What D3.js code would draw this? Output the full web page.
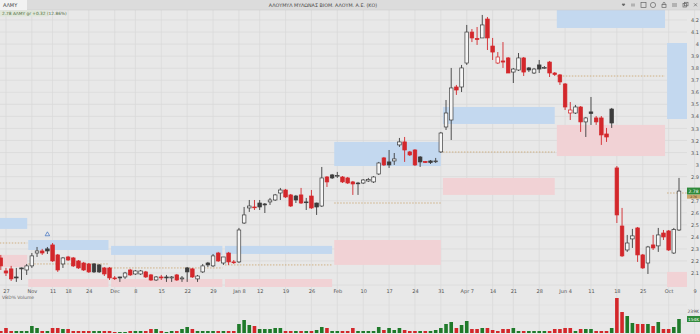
<!DOCTYPE html>
<html><head><meta charset="utf-8">
<script src="https://cdn.jsdelivr.net/npm/d3@7/dist/d3.min.js"></script>
<style>body{margin:0;background:#e8e8e8;overflow:hidden}svg{display:block;font-family:"DejaVu Sans",Arial,sans-serif}</style>
</head><body><svg id="c" width="700" height="334"></svg>
<script>
// ---------- DATA ----------
const open=[2.225,2.117,2.134,2.067,2.142,2.125,2.159,2.266,2.283,2.300,2.333,2.250,2.175,2.233,2.225,2.200,2.183,2.175,2.175,2.167,
2.142,2.142,2.059,2.067,2.067,2.125,2.092,2.092,2.109,2.084,2.042,2.067,2.067,2.059,2.084,2.051,2.142,2.134,2.051,2.109,
2.183,2.159,2.266,2.183,2.266,2.192,2.192,2.515,2.640,2.648,2.681,2.673,2.690,2.706,2.764,2.789,2.748,2.739,2.748,2.690,
2.739,2.681,2.656,2.897,2.914,2.905,2.897,2.889,2.856,2.847,2.847,2.864,2.856,2.922,3.055,3.022,3.030,3.163,3.188,3.105,
3.121,3.063,3.026,3.030,3.026,3.105,3.312,3.370,3.644,3.644,3.843,4.100,4.046,4.051,4.208,3.984,3.843,3.860,3.885,3.768,
3.785,3.885,3.802,3.760,3.827,3.802,3.851,3.760,3.744,3.669,3.428,3.428,3.478,3.354,3.437,3.387,3.387,3.254,3.461,2.972,
2.490,2.291,2.383,2.474,2.250,2.183,2.333,2.325,2.432,2.449,2.266,2.457];
const high=[2.250,2.142,2.159,2.142,2.145,2.175,2.266,2.316,2.300,2.316,2.349,2.258,2.233,2.242,2.233,2.208,2.192,2.183,2.183,2.175,
2.150,2.150,2.075,2.069,2.109,2.134,2.125,2.125,2.117,2.092,2.075,2.084,2.084,2.075,2.092,2.075,2.150,2.142,2.084,2.175,
2.192,2.258,2.275,2.233,2.275,2.208,2.474,2.648,2.706,2.706,2.706,2.681,2.723,2.756,2.806,2.798,2.756,2.748,2.806,2.723,
2.789,2.684,2.980,2.905,2.922,2.939,2.905,2.897,2.864,2.856,2.880,2.889,2.905,3.022,3.063,3.121,3.096,3.221,3.229,3.113,
3.129,3.071,3.030,3.038,3.055,3.271,3.536,3.802,3.661,3.827,4.159,4.125,4.142,4.242,4.225,4.051,3.934,4.017,3.893,3.802,
3.926,3.893,3.810,3.802,3.868,3.818,3.860,3.768,3.752,3.677,3.519,3.495,3.486,3.395,3.561,3.403,3.403,3.304,3.470,2.988,
2.640,2.416,2.466,2.482,2.258,2.325,2.416,2.474,2.457,2.457,2.474,2.889];
const low=[2.125,2.075,2.034,2.026,2.042,2.084,2.142,2.233,2.250,2.258,2.192,2.109,2.142,2.200,2.150,2.134,2.117,2.100,2.100,2.100,
2.075,2.042,2.042,2.026,2.051,2.075,2.084,2.084,2.059,2.034,2.034,2.042,2.026,2.026,2.034,2.026,2.026,2.059,2.026,2.100,
2.150,2.150,2.192,2.167,2.167,2.175,2.183,2.507,2.607,2.623,2.623,2.598,2.665,2.698,2.706,2.723,2.648,2.681,2.673,2.623,
2.632,2.582,2.648,2.814,2.880,2.889,2.847,2.839,2.748,2.748,2.839,2.856,2.847,2.914,2.988,2.972,2.997,3.146,3.022,3.071,
2.988,2.980,3.013,3.005,3.013,3.096,3.287,3.204,3.578,3.602,3.827,4.017,3.993,4.051,3.951,3.868,3.835,3.802,3.760,3.677,
3.777,3.735,3.768,3.752,3.760,3.793,3.727,3.735,3.661,3.453,3.370,3.420,3.271,3.229,3.329,3.329,3.163,3.188,3.304,2.515,
2.233,2.275,2.308,2.192,2.134,2.092,2.291,2.275,2.374,2.283,2.258,2.449];
const close=[2.159,2.100,2.051,2.059,2.134,2.159,2.242,2.283,2.266,2.283,2.200,2.125,2.225,2.208,2.159,2.142,2.125,2.109,2.109,2.109,
2.092,2.059,2.055,2.059,2.100,2.084,2.117,2.117,2.067,2.042,2.067,2.059,2.059,2.067,2.042,2.059,2.109,2.067,2.075,2.159,
2.167,2.242,2.200,2.233,2.192,2.188,2.457,2.582,2.656,2.646,2.648,2.665,2.706,2.748,2.789,2.731,2.656,2.706,2.681,2.686,
2.640,2.648,2.889,2.856,2.889,2.910,2.856,2.847,2.839,2.843,2.872,2.876,2.897,3.013,2.997,2.997,3.047,3.188,3.121,3.080,
2.997,3.022,3.017,3.017,3.030,3.262,3.428,3.636,3.619,3.802,4.100,4.051,4.038,4.159,4.051,3.934,3.893,3.851,3.760,3.793,
3.885,3.768,3.785,3.793,3.793,3.806,3.760,3.748,3.686,3.478,3.453,3.478,3.354,3.387,3.424,3.354,3.246,3.229,3.345,2.582,
2.242,2.349,2.408,2.250,2.142,2.316,2.308,2.416,2.399,2.291,2.460,2.780];
const volume=[22,55,22,22,22,22,77,55,22,22,55,55,44,44,22,22,22,22,22,22,
22,22,11,11,11,22,22,22,22,44,44,22,11,22,22,44,66,44,22,22,
22,22,22,22,22,22,99,143,88,77,44,44,44,55,55,22,22,22,22,22,
22,33,66,55,22,22,22,22,55,22,22,22,22,66,33,55,33,55,33,22,
22,22,22,22,33,55,99,121,55,88,132,44,44,55,55,33,22,44,44,55,
22,22,22,22,22,22,22,44,44,55,55,22,44,44,44,22,22,22,55,385,
231,187,110,99,99,99,77,121,44,44,66,154];
const bars=d3.range(open.length);
const tickIndex=[1,6,10,13,17,22,26,31,36,41,46,50,55,60,65,70,75,80,85,90,95,99,104,109,114,119,124,129,134];
const tickLabels=["27","Nov","11","18","24","Dec","8","15","22","29","Jan 8","12","19","26","Feb","10","17","24","31","Apr 7","14","21","28","Jun 4","11","18","25","Oct","9"];
const priceTicks=d3.range(21,43).map(d=>d/10);
// periodic zones (bar index ranges), resistance (blue), support (pink), pivot (dotted)
const zoneStart=[-0.2,5.3,21.3,43.3,64.4,85.4,107.4,128.7];
const zoneEnd=[5.1,20.8,42.8,64.0,85.0,107.0,128.3,132.6];
const resTop=[2.557,2.374,2.325,2.325,3.188,3.478,4.291,4.009];
const resBot=[2.466,2.291,2.250,2.258,2.988,3.337,4.134,3.378];
const supTop=[2.250,2.050,2.050,2.050,2.374,2.889,3.329,2.109];
const supBot=[2.150,1.960,1.960,1.960,2.167,2.748,3.071,1.976];
const pivot=[2.349,2.175,2.142,2.167,2.681,3.104,3.735,2.764];
const zones=zoneStart.map((s,i)=>({s,e:zoneEnd[i],rt:resTop[i],rb:resBot[i],st:supTop[i],sb:supBot[i],pv:pivot[i]}));

// ---------- CHART ----------
const W=700,H=334;
const svg=d3.select('#c');
const P={l:0,r:687,t:10,b:287};
const x=d3.scaleLinear().domain([0,131]).range([0.8,679]);
const y=d3.scaleLinear().domain([2.1,4.2]).range([273,20]);
const yv=d3.scaleLinear().domain([0,407]).range([333,296]);
const bw=3.6;
const RED='#d3272b', DARK='#3c3c3c', GREEN='#1f7a2a';
const lc=close[close.length-1];

svg.append('rect').attr('width',W).attr('height',H).attr('fill','#e8e8e8');
svg.append('defs').append('clipPath').attr('id','clip').append('rect')
  .attr('x',P.l).attr('y',P.t).attr('width',P.r-P.l).attr('height',P.b-P.t);

// grid
const grid=svg.append('g');
grid.selectAll('.hg').data(d3.range(20,43).map(d=>d/10)).join('line')
  .attr('x1',0).attr('x2',P.r).attr('y1',d=>y(d)).attr('y2',d=>y(d))
  .attr('stroke','#d9d9d9').attr('stroke-width',0.7);
grid.selectAll('.vg').data(tickIndex).join('line')
  .attr('x1',d=>x(d)).attr('x2',d=>x(d)).attr('y1',P.t).attr('y2',H)
  .attr('stroke','#d9d9d9').attr('stroke-width',0.7);
grid.selectAll('.vh').data([305,314,323]).join('line')
  .attr('x1',0).attr('x2',P.r).attr('y1',d=>d).attr('y2',d=>d)
  .attr('stroke','#dedede').attr('stroke-width',0.6);

// zones
const zg=svg.append('g').attr('clip-path','url(#clip)');
zg.selectAll('.rz').data(zones).join('rect')
  .attr('x',d=>x(d.s)).attr('width',d=>x(d.e)-x(d.s))
  .attr('y',d=>y(d.rt)).attr('height',d=>y(d.rb)-y(d.rt)).attr('fill','#c3d8ef');
zg.selectAll('.sz').data(zones).join('rect')
  .attr('x',d=>x(d.s)).attr('width',d=>x(d.e)-x(d.s))
  .attr('y',d=>y(d.st)).attr('height',d=>y(d.sb)-y(d.st)).attr('fill','#f1d2d5');
zg.selectAll('.pz').data(zones).join('line')
  .attr('x1',d=>x(d.s)).attr('x2',d=>x(d.e)).attr('y1',d=>y(d.pv)).attr('y2',d=>y(d.pv))
  .attr('stroke','#c49a5a').attr('stroke-width',0.7).attr('stroke-dasharray','1.5,1.5');

// candles
const cg=svg.append('g').attr('clip-path','url(#clip)');
const colOf=i=>{const pc=i>0?close[i-1]:open[i];return close[i]<pc?RED:DARK;};
cg.selectAll('.wick').data(bars).join('line')
  .attr('x1',i=>x(i)).attr('x2',i=>x(i)).attr('y1',i=>y(high[i])).attr('y2',i=>y(low[i]))
  .attr('stroke',colOf).attr('stroke-width',0.9);
cg.selectAll('.body').data(bars).join('rect')
  .attr('x',i=>x(i)-bw/2).attr('width',bw)
  .attr('y',i=>y(Math.max(open[i],close[i])))
  .attr('height',i=>Math.max(0.8,Math.abs(y(open[i])-y(close[i]))))
  .attr('fill',i=>close[i]<open[i]?colOf(i):'#f6f6f6')
  .attr('stroke',colOf).attr('stroke-width',0.7);

// marker triangle
svg.append('path').attr('d',d3.symbol(d3.symbolTriangle,9)())
  .attr('transform',`translate(${x(9)},${y(2.42)})`).attr('fill','none').attr('stroke','#3b6fc0').attr('stroke-width',0.7);

// price axis (label hidden under the last-price tag is left out)
const shownTicks=priceTicks.filter(t=>Math.abs(y(t)-y(lc))>6);
const ya=svg.append('g').attr('transform',`translate(${P.r},0)`)
  .call(d3.axisRight(y).tickValues(shownTicks).tickSize(0).tickFormat(d=>String(+d.toFixed(1))));
ya.select('.domain').remove();
ya.selectAll('text').attr('x',12).attr('text-anchor','end').attr('font-size',5).attr('fill','#555').attr('font-family','DejaVu Sans, sans-serif');

// time axis
const xa=svg.append('g').attr('transform',`translate(0,${P.b})`)
  .call(d3.axisBottom(x).tickValues(tickIndex).tickSize(0).tickPadding(2).tickFormat((d,i)=>tickLabels[i]));
xa.select('.domain').remove();
xa.selectAll('text').attr('font-size',5).attr('fill','#555').attr('font-family','DejaVu Sans, sans-serif');

// volume
svg.append('g').selectAll('rect').data(bars).join('rect')
  .attr('x',i=>x(i)-bw/2).attr('width',bw)
  .attr('y',i=>yv(volume[i])).attr('height',i=>yv(0)-yv(volume[i]))
  .attr('fill',i=>{const pc=i>0?close[i-1]:open[i];return close[i]>=pc?GREEN:RED;});
svg.append('text').attr('x',2).attr('y',299).attr('font-size',4.5).attr('fill','#666').text('VBD% Volume');
svg.append('text').attr('x',699).attr('y',yv(239)+1.5).attr('text-anchor','end').attr('font-size',4.5).attr('fill','#555').text('239K');
const lv=volume[volume.length-1];
svg.append('rect').attr('x',687).attr('y',yv(lv)-3).attr('width',13).attr('height',6).attr('fill','#2f8a3a');
svg.append('text').attr('x',693.5).attr('y',yv(lv)+1.6).attr('text-anchor','middle').attr('font-size',4.3).attr('fill','#fff').text(lv+'K');

// last price tag and pivot tag stacked beneath it
svg.append('rect').attr('x',687).attr('y',y(lc)-3.5).attr('width',13).attr('height',7).attr('fill','#2f8a3a');
svg.append('text').attr('x',693.5).attr('y',y(lc)+1.8).attr('text-anchor','middle').attr('font-size',4.5).attr('fill','#fff').text(lc.toFixed(2));
const pvY=y(lc)+3.6;
svg.append('rect').attr('x',687).attr('y',pvY).attr('width',13).attr('height',4).attr('fill','#c9a66b');
svg.append('text').attr('x',693.5).attr('y',pvY+3.1).attr('text-anchor','middle').attr('font-size',3).attr('fill','#4a3a20').text(pivot[7].toFixed(2));

// header
svg.append('rect').attr('width',W).attr('height',10).attr('fill','#dcdcdc');
svg.append('line').attr('x1',0).attr('x2',W).attr('y1',10).attr('y2',10).attr('stroke','#cfcfcf').attr('stroke-width',0.6);
svg.append('rect').attr('x',0).attr('y',0).attr('width',27).attr('height',10).attr('fill','#f2f2f2');
svg.append('text').attr('x',3).attr('y',7).attr('font-size',5).attr('fill','#444').text('ΑΛΜΥ');
svg.append('text').attr('x',323).attr('y',7).attr('text-anchor','middle').attr('font-size',4.8).attr('fill','#444')
  .text('ΑΛΟΥΜΥΛ ΜΥΛΩΝΑΣ ΒΙΟΜ. ΑΛΟΥΜ. Α.Ε. (ΚΟ)');
svg.append('rect').attr('x',0).attr('y',10.5).attr('width',48).attr('height',6).attr('fill','#dfe6d9');
svg.append('text').attr('x',2).attr('y',15).attr('font-size',4.3).attr('fill','#4d6b3c')
  .text(`${lc.toFixed(2)} ΑΛΜΥ gr +0.32 (12.86%)`);
// toolbar icons
const ic=svg.append('g').attr('fill','none').attr('stroke','#666').attr('stroke-width',0.7);
ic.append('path').attr('d','M622,4 l3,0 l-1.5,2 z').attr('fill','#666');
ic.append('path').attr('d','M632,3.5 v3 M634,3.5 v3');
ic.append('rect').attr('x',641).attr('y',2.5).attr('width',5).attr('height',5);
ic.append('circle').attr('cx',653).attr('cy',5).attr('r',2.6);
ic.append('rect').attr('x',662).attr('y',4.5).attr('width',4).attr('height',3);
ic.append('path').attr('d','M663,4.5 v-1.2 a1,1 0 0 1 2,0 v1.2');
ic.append('path').attr('d','M672,4 h5 M672,6 h5');
ic.append('rect').attr('x',683).attr('y',3.5).attr('width',3.5).attr('height',3.5);
ic.append('rect').attr('x',684.5).attr('y',2.3).attr('width',3.5).attr('height',3.5);
ic.append('path').attr('d','M694,3.3 l3,3 M697,3.3 l-3,3');
</script></body></html>
